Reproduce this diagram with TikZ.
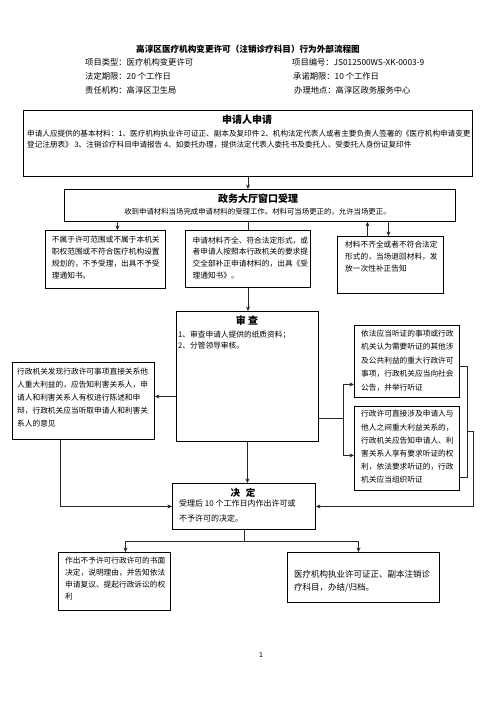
\documentclass[tikz,border=0pt]{standalone}
\usepackage{fontspec}
\setmainfont{Noto Sans CJK SC}
\usepackage{tikz}
\usetikzlibrary{arrows.meta}

\begin{document}
\begin{tikzpicture}[x=1pt,y=-1pt,
  box/.style={draw,line width=0.9pt,inner sep=0pt,anchor=north west},
  txt/.style={anchor=north west,inner sep=0pt,align=left,font=\fontsize{7.7}{#1}\selectfont},
  head/.style={inner sep=0pt,font=\bfseries\fontsize{10}{12}\selectfont},
  info/.style={anchor=west,inner sep=0pt,font=\fontsize{8.3}{10}\selectfont},
  link/.style={line width=0.8pt,black!85},
  >={Stealth[length=4.5pt,width=4pt]}]
\useasboundingbox (0,0) rectangle (496,702);
% header
\node[inner sep=0pt,font=\bfseries\fontsize{8.6}{10}\selectfont] (title) at (248,49) {高淳区医疗机构变更许可（注销诊疗科目）行为外部流程图};
\node[info] (type) at (85,62) {项目类型：医疗机构变更许可};
\node[info] (code) at (292,62) {项目编号：JS012500WS-XK-0003-9};
\node[info] (limit) at (85,76) {法定期限：20 个工作日};
\node[info] (promise) at (293,76) {承诺期限：10 个工作日};
\node[info] (office) at (85,90) {责任机构：高淳区卫生局};
\node[info] (place) at (294,90) {办理地点：高淳区政务服务中心};
% boxes
\node[box,minimum width=449pt,minimum height=66pt] (apply) at (23,110) {};
\node[box,minimum width=391pt,minimum height=32pt] (window) at (64,189) {};
\node[box,minimum width=120pt,minimum height=58pt] (reject) at (45,230) {};
\node[box,minimum width=125pt,minimum height=57pt] (accept) at (185,230) {};
\node[box,minimum width=106pt,minimum height=57pt] (supplement) at (337,236) {};
\node[box,minimum width=142pt,minimum height=130pt] (review) at (176,311) {};
\node[box,minimum width=142pt,minimum height=77pt] (inform) at (12,362) {};
\node[box,minimum width=105pt,minimum height=72pt] (hearing) at (354,325) {};
\node[box,minimum width=105pt,minimum height=84pt] (notify) at (354,406) {};
\node[box,minimum width=143pt,minimum height=46pt] (decide) at (172,483) {};
\node[box,minimum width=112pt,minimum height=58pt] (deny) at (58,552) {};
\node[box,minimum width=152pt,minimum height=50pt] (finish) at (287,552) {};
% texts
\node[head] (applyhead) at (247,120) {申请人申请};
\node[txt=11.3,font=\fontsize{7.6}{11.3}\selectfont] (applytext) at ([shift={(4,19.7)}]apply.north west) {申请人应提供的基本材料：1、医疗机构执业许可证正、副本及复印件 2、机构法定代表人或者主要负责人签署的《医疗机构申请变更\\登记注册表》 3、注销诊疗科目申请报告 4、如委托办理，提供法定代表人委托书及委托人、受委托人身份证复印件};
\node[head] (windowhead) at (258,198.3) {政务大厅窗口受理};
\node[inner sep=0pt,font=\fontsize{7.4}{9}\selectfont] (windowtext) at (257.5,211.7) {收到申请材料当场完成申请材料的受理工作。材料可当场更正的，允许当场更正。};
\node[txt=11.7] (rejecttext) at ([shift={(6.7,6.3)}]reject.north west) {不属于许可范围或不属于本机关\\职权范围或不符合医疗机构设置\\规划的，不予受理，出具不予受\\理通知书。};
\node[txt=11.7] (accepttext) at ([shift={(7.4,6.3)}]accept.north west) {申请材料齐全、符合法定形式，或\\者申请人按照本行政机关的要求提\\交全部补正申请材料的，出具《受\\理通知书》。};
\node[txt=12] (supplementtext) at ([shift={(8,4.6)}]supplement.north west) {材料不齐全或者不符合法定\\形式的，当场退回材料，发\\放一次性补正告知};
\node[head] (reviewhead) at (247,320.7) {审 查};
\node[txt=11] (reviewtext) at ([shift={(2,19.5)}]review.north west) {1、审查申请人提供的纸质资料；\\2、分管领导审核。};
\node[txt=12.9] (informtext) at ([shift={(5,6)}]inform.north west) {行政机关发现行政许可事项直接关系他\\人重大利益的，应告知利害关系人，申\\请人和利害关系人有权进行陈述和申\\辩，行政机关应当听取申请人和利害关\\系人的意见};
\node[txt=13.5] (hearingtext) at ([shift={(7,4.3)}]hearing.north west) {依法应当听证的事项或行政\\机关认为需要听证的其他涉\\及公共利益的重大行政许可\\事项，行政机关应当向社会\\公告，并举行听证};
\node[txt=13.2] (notifytext) at ([shift={(7,4.3)}]notify.north west) {行政许可直接涉及申请人与\\他人之间重大利益关系的，\\行政机关应告知申请人、利\\害关系人享有要求听证的权\\利，依法要求听证的，行政\\机关应当组织听证};
\node[head,font=\bfseries\fontsize{9.5}{12}\selectfont] (decidehead) at (243,493) {决\hspace{6pt}定};
\node[txt=15,font=\fontsize{8}{15}\selectfont] (decidetext) at ([shift={(7,17)}]decide.north west) {受理后 10 个工作日内作出许可或\\不予许可的决定。};
\node[txt=12] (denytext) at ([shift={(7,4.3)}]deny.north west) {作出不予许可行政许可的书面\\决定，说明理由，并告知依法\\申请复议、提起行政诉讼的权\\利};
\node[txt=12.7,font=\fontsize{8.5}{12.7}\selectfont] (finishtext) at ([shift={(7,18)}]finish.north west) {医疗机构执业许可证正、副本注销诊\\疗科目，办结/归档。};
\node[inner sep=0pt,font=\fontsize{7}{8}\selectfont] (pagenum) at (261,655) {1};
% connectors
\draw[link,->] (apply.south) -- (apply.south |- window.north);
\coordinate (r1) at ([xshift=12pt]reject.north);
\draw[link,->] (window.south -| r1) -- (r1);
\draw[link] (window.south -| accept.north) -- (accept.north);
\coordinate (s1) at ([xshift=-23pt]supplement.north);
\draw[link,->] (s1) -- (window.south -| s1);
\coordinate (s2) at ([xshift=-2pt]supplement.north);
\draw[link,->] (window.south -| s2) -- (s2);
\draw[link,->] (accept.south) -- (accept.south |- review.north);
\coordinate (i1) at ([yshift=4.5pt]inform.east);
\draw[link,->] (review.west |- i1) -- (i1);
\draw[link,->] ([xshift=-23pt]inform.south) |- (decide.west);
\coordinate (fork) at (343,418);
\draw[link] (review.east |- fork) -- (fork);
\draw[link,->] (fork) |- ([yshift=-23pt]hearing.west);
\draw[link,->] (fork) |- ([yshift=-7pt]notify.west);
\draw[link] ([yshift=-5pt]hearing.east) -- ++(7,0) |- ([yshift=-29pt]notify.east);
\coordinate (merge) at ([xshift=7pt,yshift=17pt]notify.east);
\draw[link,->] (merge) -- ++(6,0) |- (decide.east);
\draw[link,->] (review.south) -- (review.south |- decide.north);
\coordinate (split) at ([yshift=-11pt]decide.south);
\draw[link] (decide.south) -- (split);
\draw[link,->] (split) -| ([xshift=11pt]deny.north);
\draw[link,->] (split) -| ([xshift=-5pt]finish.north);
\end{tikzpicture}
\end{document}
